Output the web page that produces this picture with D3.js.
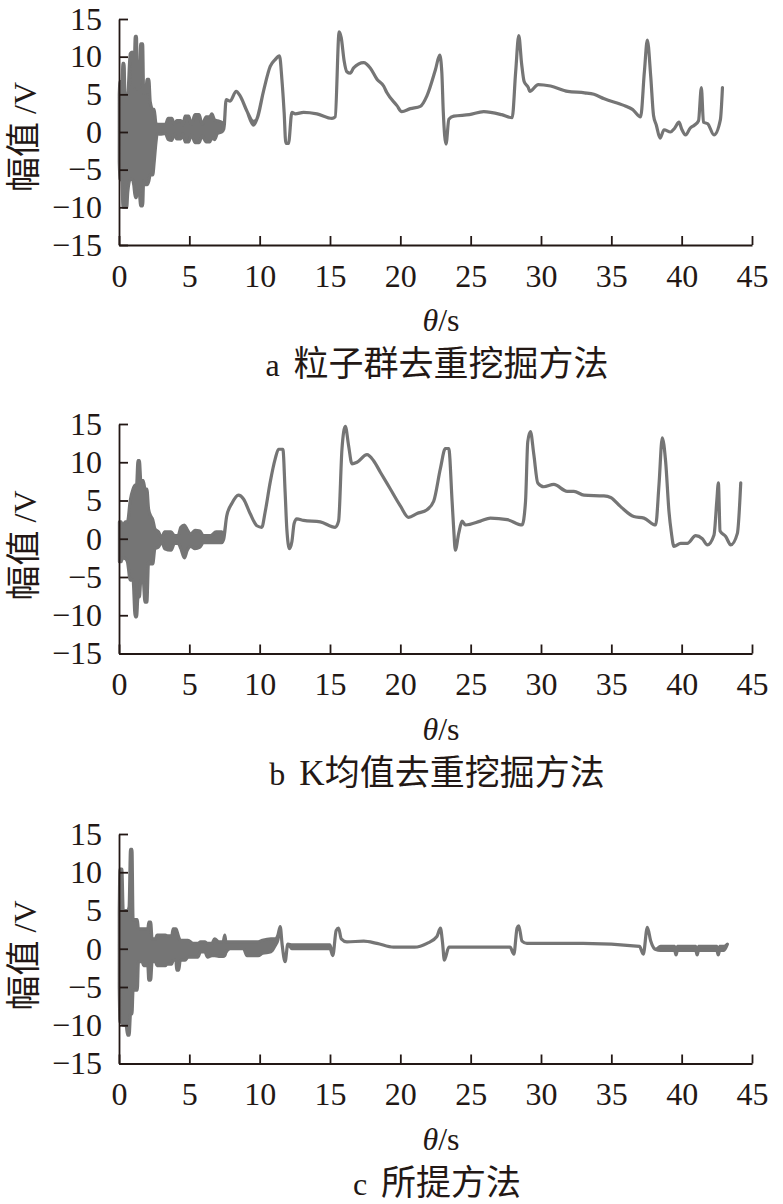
<!DOCTYPE html>
<meta charset="utf-8">
<title>Signal comparison</title>
<style>
  body { margin: 0; background: #fff; }
  svg { display: block; }
</style>
<body>
<script src="https://cdn.jsdelivr.net/npm/d3@7/dist/d3.min.js"></script>
<script>

var width = 783;
var height = 1204;

// tick values and labels
var xTicks = [0, 5, 10, 15, 20, 25, 30, 35, 40, 45];
var yTicks = [-15, -10, -5, 0, 5, 10, 15];
var captionTags = ['a', 'b', 'c'];
var captionTexts = ['粒子群去重挖掘方法', 'K均值去重挖掘方法', '所提方法'];

// [time s, low V, high V]  (high missing -> single value)
var seriesA = [
  [0.02, -4, 5], [0.07, -6.2, 6.7], [0.22, -6.5, 6.7], [0.28, -10, 9.1], [0.36, -10, 9.1],
  [0.42, -10, 5], [0.55, -10, 5], [0.62, -8, 5], [0.8, -6.3, 10.4], [0.95, -6.3, 10.6],
  [1.05, -7, 6], [1.16, -8.7, 12.7], [1.24, -8.7, 12.7], [1.3, -7.8, 5.7], [1.42, -7.8, 5.7],
  [1.55, -9.8, 11.7], [1.68, -9.8, 11.7], [1.75, -6.5, 5.2], [1.9, -7, 5.2], [2.0, -7, 7],
  [2.12, -6.5, 7], [2.22, -5.7, 4], [2.4, -5.7, 3], [2.5, -4, 3], [2.62, -1.5, 1.2], [2.72, -0.2, 1],
  [2.9, -0.3, 1.0], [3.3, -0.2, 1.0], [3.5, -1.0, 1.8], [3.75, -1.1, 1.8], [3.95, -0.3, 1.0],
  [4.1, -0.9, 1.5], [4.4, -0.9, 1.5], [4.55, -0.2, 0.9], [4.7, -1.3, 2.1], [4.95, -1.3, 2.1],
  [5.15, -0.3, 1.0], [5.4, -1.4, 2.3], [5.7, -1.4, 2.3], [5.9, -0.5, 1.0], [6.2, -1.3, 2.0],
  [6.45, -1.3, 2.0], [6.6, -0.8, 2.4], [6.8, -1.0, 1.6], [7.0, -0.2, 1.5], [7.3, 0.0, 1.3],
  [7.45, 0.4], [7.62, 4.3], [7.9, 4.1], [8.33, 5.4], [8.61, 4.8], [9.09, 2.8], [9.56, 0.9, 1.4],
  [9.8, 1.7], [10.27, 5.4], [10.75, 8.7], [11.1, 9.6], [11.41, 10.1], [11.58, 7], [11.74, 2.6],
  [11.86, -1.5], [12.05, -1.5], [12.29, 2.6], [12.53, 2.4], [13.12, 2.6], [14.07, 2.4], [15.14, 1.8],
  [15.37, 2.0], [15.65, 13.3], [15.8, 12.5], [16.0, 9.5], [16.2, 8.0], [16.44, 7.8], [16.68, 8.5],
  [17.39, 9.2], [17.86, 8.5], [18.34, 7.0], [18.81, 6.1], [19.05, 5.2], [19.76, 3.5], [20.1, 2.7],
  [20.71, 3.1], [21.42, 3.4], [21.89, 4.8], [22.5, 8.3], [22.8, 10.2], [22.95, 7.9], [23.05, 2.8],
  [23.25, -1.6], [23.45, 1.7], [23.8, 2.1], [24.9, 2.3], [25.93, 2.7], [27.2, 2.3], [27.95, 1.9],
  [28.2, 8.0], [28.42, 12.8], [28.62, 9.1], [28.8, 6.7], [29.1, 5.9], [29.2, 5.4], [29.8, 6.3],
  [30.68, 6.1], [31.9, 5.4], [33.1, 5.2], [33.76, 5.0], [34.5, 4.4], [35.93, 3.5], [36.5, 3.0],
  [37.08, 2.0], [37.35, 8.0], [37.56, 12.2], [37.8, 7.4], [38.0, 2.2], [38.2, 0.9], [38.46, -0.8],
  [38.75, 0.3], [39.2, 0.0], [39.5, 0.5], [39.81, 1.3], [40.0, 0.4], [40.28, -0.4], [40.6, 0.5],
  [40.9, 0.9], [41.2, 1.5], [41.4, 5.9], [41.55, 1.3], [41.85, 1.1], [42.3, -0.4], [42.75, 1.6],
  [42.9, 5.9]
];

var seriesB = [
  [0.03, -3, 2.2], [0.15, -3, 2.2], [0.25, -2.5, 1.5], [0.45, -2.6, 2.2], [0.6, -3, 2.2],
  [0.8, -5.4, 5], [1.0, -5.4, 6.5], [1.15, -10.2, 7], [1.25, -10.2, 7], [1.35, -7.6, 10.2],
  [1.45, -7.6, 10.2], [1.55, -5.5, 7.6], [1.72, -5.5, 7.6], [1.85, -8.3, 6.5], [1.98, -8.3, 6.5],
  [2.1, -3, 3.9], [2.25, -3.3, 3.0], [2.4, -3.3, 2.5], [2.55, -1.3, 1.3], [2.8, -1.1, 0.9],
  [3.04, -0.4, 0.2], [3.25, -1.3, 0.9], [3.7, -1.5, 0.9], [3.95, -0.6, 0.4], [4.2, -0.6, 0.4],
  [4.4, -1.3, 1.5], [4.65, -2.5, 1.8], [4.85, -1.5, 1.2], [5.1, -1.0, 0.6], [5.4, -1.3, 1.1],
  [5.75, -1.1, 1.0], [6.0, -0.5, 0.4], [6.5, -0.5, 0.4], [6.9, -0.5, 0.9], [7.3, -0.5, 0.9],
  [7.45, 0.0, 0.6], [7.66, 3.0], [8.02, 4.6], [8.49, 5.7], [8.85, 5.2], [9.32, 3.3], [9.8, 1.7],
  [10.15, 1.5], [10.39, 3.5], [10.75, 7.4], [11.1, 10.4], [11.34, 11.7], [11.65, 11.7], [11.81, 6.1],
  [11.93, 1.3], [12.12, -1.3], [12.29, -0.4], [12.45, 2.0], [12.64, 2.6], [13.12, 2.4], [14.31, 2.2],
  [15.37, 1.5], [15.61, 2.3], [15.85, 11.7], [16.09, 14.7], [16.32, 12.2], [16.56, 9.8], [16.92, 10.0],
  [17.63, 11.0], [18.1, 10.2], [18.58, 8.7], [19.29, 6.5], [20.0, 4.3], [20.59, 2.8], [21.19, 3.3],
  [21.9, 3.8], [22.37, 4.9], [22.85, 9.2], [23.2, 11.8], [23.44, 11.8], [23.68, 4.9], [23.79, 1.4],
  [23.91, -1.5], [24.15, 0.7], [24.39, 2.3], [24.63, 1.8], [25.69, 2.3], [26.4, 2.7], [27.6, 2.5],
  [28.66, 1.8], [28.9, 4.9], [29.06, 12.7], [29.25, 14.0], [29.49, 11.0], [29.77, 7.3], [30.2, 6.8],
  [30.91, 7.1], [31.86, 6.2], [32.34, 6.2], [33.05, 5.7], [34.47, 5.6], [34.95, 5.4], [35.66, 4.2],
  [36.6, 2.9], [37.32, 2.7], [38.15, 1.8], [38.39, 7.1], [38.62, 13.2], [38.86, 10.1], [39.1, 3.5],
  [39.26, 0.9], [39.45, -1.0], [39.93, -0.6], [40.4, -0.6], [41.0, 0.4], [41.47, 0.0], [41.83, -0.8],
  [42.3, 0.5], [42.5, 5], [42.61, 7.3], [42.73, 1.0], [43.13, 0.3], [43.49, -0.8], [43.96, 0.7],
  [44.2, 7.3]
];

var seriesC = [
  [0.02, -5, 5], [0.07, -9.6, 10.4], [0.2, -9.6, 10.4], [0.3, -10, 5], [0.5, -10, 5],
  [0.62, -11.3, 5], [0.72, -11.3, 5.5], [0.82, -8.5, 13], [0.92, -8.5, 13], [1.0, -5.4, 3.8],
  [1.3, -5.4, 3.8], [1.38, -1.7, 2.6], [1.65, -1.7, 2.6], [1.75, -2.2, 2.6], [2.05, -2.2, 2.6],
  [2.12, -4.1, 3.5], [2.25, -4.1, 3.5], [2.35, -1.7, 1.3], [2.6, -1.7, 1.3], [2.7, -2.2, 1.8],
  [3.3, -2.2, 1.8], [3.4, -2.0, 1.7], [3.75, -2.0, 1.7], [3.85, -1.5, 2.6], [4.05, -1.5, 2.6],
  [4.1, -2.8, 2.4], [4.25, -2.8, 1.5], [4.35, -1.5, 1.1], [4.7, -1.5, 1.1], [4.9, -1.1, 1.1],
  [5.3, -1.1, 0.7], [5.6, -1.1, 0.7], [5.8, -0.4, 0.9], [6.1, -0.4, 0.9], [6.3, -1.1, 0.7],
  [6.6, -0.9, 0.7], [6.8, -0.9, 1.3], [7.1, -1.0, 0.9], [7.4, -1.0, 0.9], [7.52, -0.9, 1.8],
  [7.6, -0.5, 0.9], [7.9, 0.0, 0.9], [8.85, 0.0, 0.9], [9.1, -0.9, 0.9], [9.9, -0.9, 0.9],
  [10.2, -0.6, 1.1], [10.8, -0.4, 1.3], [11.1, 0.4, 1.3], [11.3, 1.2, 1.8], [11.46, 2.9],
  [11.6, 0.5], [11.81, -1.7], [12.0, 0.6], [12.3, 0.0, 0.5], [15.0, 0.0, 0.5], [15.2, -0.9],
  [15.44, 2.4], [15.61, 2.7], [15.8, 1.3], [16.2, 0.9], [17.4, 1.0], [18.34, 0.7], [19.52, 0.2],
  [21.0, 0.2], [21.9, 0.7], [22.6, 1.6], [22.85, 2.7], [23.0, 0.8], [23.13, -1.5], [23.45, 0.2],
  [27.8, 0.2], [28.07, -0.7], [28.3, 2.7], [28.42, 3.0], [28.65, 1.0], [29.0, 0.7], [33.0, 0.7],
  [37.0, 0.3], [37.27, -0.7], [37.56, 2.8], [37.8, 1.0], [38.15, -0.1], [38.5, -0.2, 0.3],
  [39.5, -0.2, 0.3], [39.6, -0.8], [39.7, -0.2, 0.3], [41.0, -0.2, 0.3], [41.1, -0.8],
  [41.2, -0.2, 0.3], [42.5, -0.2, 0.3], [42.6, -0.8], [42.7, -0.2, 0.3], [43.0, -0.2, 0.3],
  [43.25, 0.6]
];

var allSeries = [seriesA, seriesB, seriesC];

var ink = '#231815';
var trace = '#757575';
var panelTop = [19, 424, 834];
var panelBottom = [245, 653.5, 1063.5];
var latin = '"Liberation Serif", "Times New Roman", serif';
var mixed = '"Liberation Serif", "Noto Sans CJK SC", serif';

var svg = d3.select('body').append('svg')
    .attr('width', width)
    .attr('height', height);

var x = d3.scaleLinear().domain([0, 45]).range([119, 752]);

allSeries.forEach(function(data, i){
  var h = panelBottom[i] - panelTop[i];
  var y = d3.scaleLinear().domain([-15, 15]).range([h, 0]);
  var g = svg.append('g').attr('transform', 'translate(0,' + panelTop[i] + ')');

  var band = d3.area()
      .curve(d3.curveMonotoneX)
      .x(function(d){ return x(d[0]); })
      .y0(function(d){ return y(d[1]); })
      .y1(function(d){ return y(d.length > 2 ? d[2] : d[1]); });

  // the trace: filled envelope, its outline gives the line width
  g.append('path')
    .datum(data)
    .attr('d', band)
    .style('fill', trace)
    .style('stroke', trace)
    .style('stroke-width', 3.2)
    .style('stroke-linejoin', 'round');

  var gx = g.append('g')
      .attr('transform', 'translate(0,' + h + ')')
      .call(d3.axisBottom(x).tickValues(xTicks).tickSize(-9).tickSizeOuter(0).tickPadding(19));
  var gy = g.append('g')
      .attr('transform', 'translate(' + x(0) + ',0)')
      .call(d3.axisLeft(y).tickValues(yTicks).tickSize(-9).tickSizeOuter(0).tickPadding(17));

  [gx, gy].forEach(function(ax){
    ax.select('.domain').style('stroke', ink).style('stroke-width', 1.8);
    ax.selectAll('.tick line').style('stroke', ink).style('stroke-width', 1.8);
    ax.selectAll('.tick text')
      .style('fill', ink)
      .style('font-family', latin)
      .style('font-size', '32px');
  });

  // y label, same page offset above the x axis in every panel
  var ylMid = h - 108;
  var yl = g.append('text')
      .attr('transform', 'translate(36,' + ylMid + ') rotate(-90)')
      .attr('text-anchor', 'middle')
      .style('fill', ink)
      .style('font-family', mixed);
  yl.append('tspan').style('font-size', '35px').text('幅值');
  yl.append('tspan').style('font-size', '32px').text('\u00a0/V');

  // x label
  var xl = g.append('text')
      .attr('x', 441)
      .attr('y', h + 86)
      .attr('text-anchor', 'middle')
      .style('fill', ink)
      .style('font-family', latin)
      .style('font-size', '32px');
  xl.append('tspan').style('font-style', 'italic').text('θ');
  xl.append('tspan').text('/s');

  // caption
  var cap = g.append('text')
      .attr('x', 437)
      .attr('y', h + 131)
      .attr('text-anchor', 'middle')
      .style('fill', ink)
      .style('font-family', mixed);
  cap.append('tspan').style('font-size', '32px').text(captionTags[i]);
  cap.append('tspan').attr('dx', 14).style('font-size', '35px').text(captionTexts[i]);
});

</script>
</body>
